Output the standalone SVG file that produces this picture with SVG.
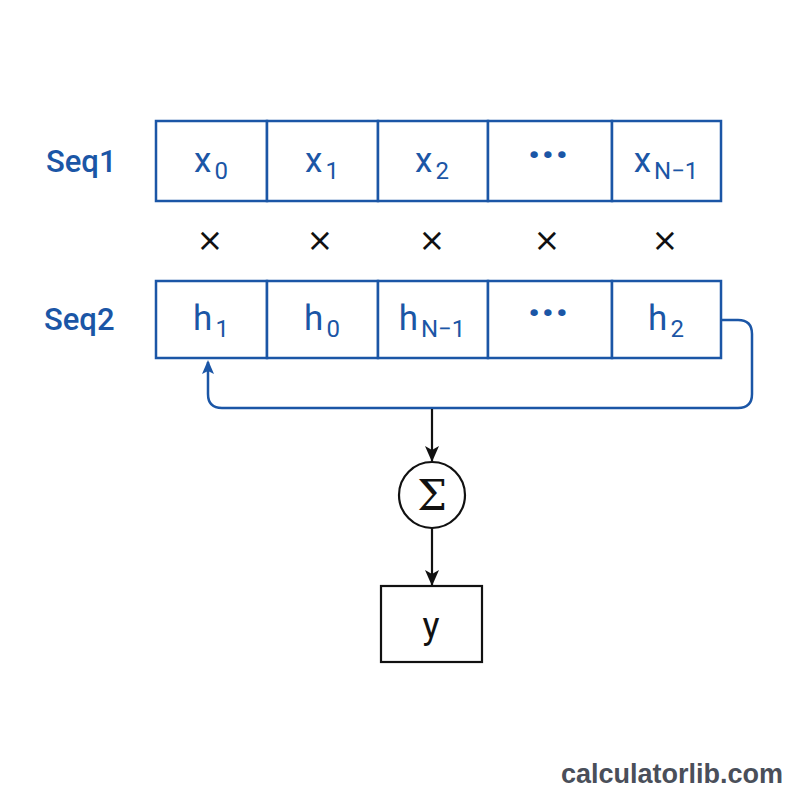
<svg xmlns="http://www.w3.org/2000/svg" width="800" height="800" viewBox="0 0 800 800">
<style>
.cell{fill:#fff;stroke:#1b56a6;stroke-width:2.5}
.lbl{font-family:Roboto,"Liberation Sans",sans-serif;fill:#1b56a6;font-size:35px;text-anchor:middle}
.sub{font-size:24px}
.dots{font-family:Roboto,"Liberation Sans",sans-serif;fill:#1b56a6;font-size:46px;font-weight:bold;text-anchor:middle}
.side{font-family:Roboto,"Liberation Sans",sans-serif;fill:#1b56a6;font-size:31px;font-weight:500}
.mul{font-family:"DejaVu Sans",sans-serif;fill:#111;font-size:32px;text-anchor:middle}
.blk{fill:none;stroke:#111;stroke-width:2.2}
.blue{fill:none;stroke:#1b56a6;stroke-width:2.5}
</style>
<defs>
<marker id="ab" markerWidth="16" markerHeight="16" refX="15" refY="8" orient="auto" markerUnits="userSpaceOnUse" viewBox="0 0 16 16"><path d="M0,1 L16,8 L0,15 L4,8 Z" fill="#111"/></marker>
<marker id="au" markerWidth="14" markerHeight="14" refX="12" refY="7" orient="auto" markerUnits="userSpaceOnUse" viewBox="0 0 14 14"><path d="M0,1 L14,7 L0,13 L3,7 Z" fill="#1b56a6"/></marker>
</defs>
<rect width="800" height="800" fill="#fff"/>
<g id="seq1">
<text class="side" x="46" y="172">Seq1</text>
<rect class="cell" x="156" y="121" width="111" height="80"/>
<rect class="cell" x="267" y="121" width="111" height="80"/>
<rect class="cell" x="378" y="121" width="110" height="80"/>
<rect class="cell" x="488" y="121" width="124" height="80"/>
<rect class="cell" x="612" y="121" width="109" height="80"/>
<text class="lbl" x="211" y="172">x<tspan class="sub" dx="3" dy="7">0</tspan></text>
<text class="lbl" x="322" y="172">x<tspan class="sub" dx="3" dy="7">1</tspan></text>
<text class="lbl" x="432" y="172">x<tspan class="sub" dx="3" dy="7">2</tspan></text>
<text class="dots" x="548" y="170">···</text>
<text class="lbl" x="666" y="172">x<tspan class="sub" dx="3" dy="7">N−1</tspan></text>
</g>
<g id="mults">
<text class="mul" x="210" y="251">×</text>
<text class="mul" x="320" y="251">×</text>
<text class="mul" x="432" y="251">×</text>
<text class="mul" x="547" y="251">×</text>
<text class="mul" x="665" y="251">×</text>
</g>
<g id="seq2">
<text class="side" x="44" y="330">Seq2</text>
<rect class="cell" x="156" y="281" width="111" height="77"/>
<rect class="cell" x="267" y="281" width="111" height="77"/>
<rect class="cell" x="378" y="281" width="110" height="77"/>
<rect class="cell" x="488" y="281" width="124" height="77"/>
<rect class="cell" x="612" y="281" width="109" height="77"/>
<text class="lbl" x="211" y="330">h<tspan class="sub" dx="3" dy="7">1</tspan></text>
<text class="lbl" x="322" y="330">h<tspan class="sub" dx="3" dy="7">0</tspan></text>
<text class="lbl" x="432" y="330">h<tspan class="sub" dx="3" dy="7">N−1</tspan></text>
<text class="dots" x="548" y="328">···</text>
<text class="lbl" x="666" y="330">h<tspan class="sub" dx="3" dy="7">2</tspan></text>
</g>
<g id="sum">
<circle cx="432" cy="495" r="33" fill="#fff" stroke="#111" stroke-width="2.2"/>
<text x="432" y="510" font-family="'DejaVu Serif',serif" font-size="42" fill="#111" text-anchor="middle">Σ</text>
</g>
<g id="y">
<rect x="381" y="586" width="101" height="76" fill="#fff" stroke="#111" stroke-width="2.2"/>
<text x="431" y="638" font-family="Roboto,'Liberation Sans',sans-serif" font-size="36" fill="#111" text-anchor="middle">y</text>
</g>
<g id="connectors">
<path class="blue" d="M721,320 H738 Q752,320 752,334 V394 Q752,408 738,408 H222 Q208,408 208,394 V362" marker-end="url(#au)"/>
<path class="blk" d="M432,409 V461" marker-end="url(#ab)"/>
<path class="blk" d="M432,528 V585" marker-end="url(#ab)"/>
</g>
<text x="783" y="783" font-family="'Liberation Sans',Arial,sans-serif" font-size="27" font-weight="bold" fill="#4a4f5a" text-anchor="end">calculatorlib.com</text>
</svg>
